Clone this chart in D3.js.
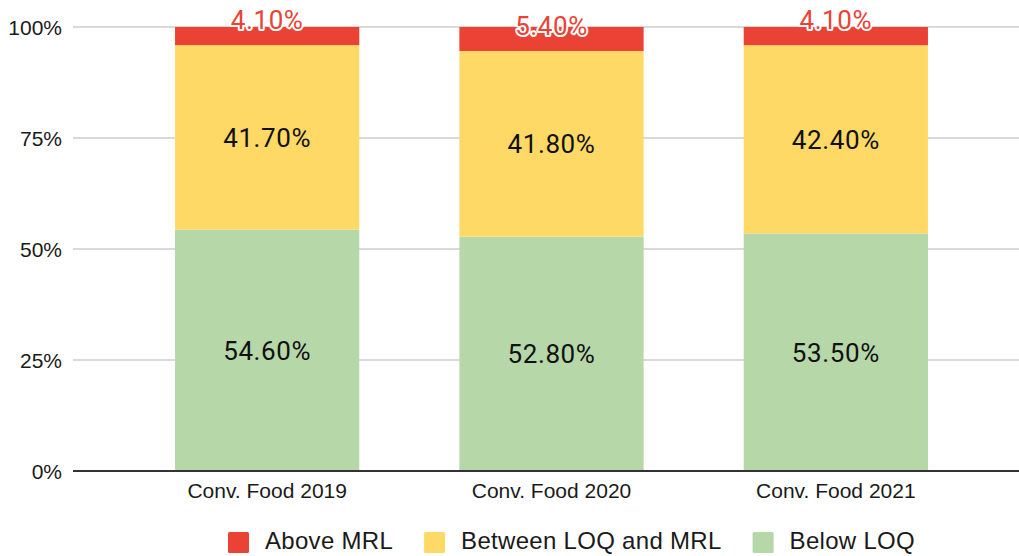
<!DOCTYPE html>
<html lang="en">
<head>
  <meta charset="UTF-8">
  <title>Pesticide residues</title>
  <style>
    body { margin: 0; background: #fff; }
    svg { display: block; }
  </style>
</head>
<body>
  <svg id="svg" width="1019" height="556"></svg>
  <script src="https://d3js.org/d3.v7.min.js"></script>
  <script>
    // chart values
    const categories = ['Conv. Food 2019', 'Conv. Food 2020', 'Conv. Food 2021']
    const seriesNames = ['Below LOQ', 'Between LOQ and MRL', 'Above MRL']
    const belowLOQ = [54.6, 52.8, 53.5]
    const betweenLOQandMRL = [41.7, 41.8, 42.4]
    const aboveMRL = [4.1, 5.4, 4.1]
    const yTicks = [0, 0.25, 0.5, 0.75, 1]

    const colors = { 'Below LOQ': '#b6d7a8', 'Between LOQ and MRL': '#ffd966', 'Above MRL': '#ea4335' }

    const svg = d3.select('#svg')

    const margin = { top: 27, right: 0, bottom: 85, left: 73 }
    const height = 556 - margin.bottom

    // stacked table, normalised to 100% like the original chart
    const table = categories.map((c, i) => {
      const total = belowLOQ[i] + betweenLOQandMRL[i] + aboveMRL[i]
      return {
        cat: c,
        'Below LOQ': belowLOQ[i] / total,
        'Between LOQ and MRL': betweenLOQandMRL[i] / total,
        'Above MRL': aboveMRL[i] / total,
        raw: { 'Below LOQ': belowLOQ[i], 'Between LOQ and MRL': betweenLOQandMRL[i], 'Above MRL': aboveMRL[i] }
      }
    })
    const stacked = d3.stack().keys(seriesNames)(table)

    const xscale = d3.scaleBand()
      .domain(categories)
      .range([125, 978])
      .paddingInner(0.352)
      .paddingOuter(0.176)

    const yscale = d3.scaleLinear()
      .domain([0, 1])
      .range([height, margin.top])

    // gridlines
    svg.append('g')
      .selectAll('line')
      .data(yTicks.filter(t => t > 0))
      .enter()
      .append('line')
      .attr('x1', margin.left)
      .attr('x2', 1019)
      .attr('y1', d => yscale(d))
      .attr('y2', d => yscale(d))
      .attr('stroke', '#cccccc')
      .attr('stroke-width', 1.5)

    // y tick labels
    svg.append('g')
      .selectAll('text')
      .data(yTicks)
      .enter()
      .append('text')
      .attr('x', 62)
      .attr('y', d => yscale(d))
      .attr('dy', '0.36em')
      .attr('text-anchor', 'end')
      .attr('font-family', 'Liberation Sans, Arial, sans-serif')
      .attr('font-size', 21)
      .attr('fill', '#1a1a1a')
      .text(d => d3.format('.0%')(d))

    // bars
    const layers = svg.append('g')
      .selectAll('g')
      .data(stacked)
      .enter()
      .append('g')
      .attr('fill', d => colors[d.key])

    layers.selectAll('rect')
      .data(d => d)
      .enter()
      .append('rect')
      .attr('x', d => xscale(d.data.cat))
      .attr('y', d => yscale(d[1]))
      .attr('width', xscale.bandwidth())
      .attr('height', d => yscale(d[0]) - yscale(d[1]))

    // baseline
    svg.append('line')
      .attr('x1', margin.left)
      .attr('x2', 1019)
      .attr('y1', yscale(0))
      .attr('y2', yscale(0))
      .attr('stroke', '#333')
      .attr('stroke-width', 2)

    // value labels
    stacked.forEach(layer => {
      const isTop = layer.key === 'Above MRL'
      svg.append('g')
        .selectAll('text')
        .data(layer)
        .enter()
        .append('text')
        .attr('x', d => xscale(d.data.cat) + xscale.bandwidth() / 2)
        .attr('y', d => isTop ? yscale(d[0]) - 16 : (yscale(d[0]) + yscale(d[1])) / 2)
        .attr('dy', isTop ? 0 : '0.36em')
        .attr('text-anchor', 'middle')
        .attr('font-family', 'Roboto, sans-serif')
        .attr('font-size', 26)
        .attr('letter-spacing', 0.6)
        .attr('fill', isTop ? '#ea4335' : '#111')
        .attr('stroke', isTop ? '#fff' : 'none')
        .attr('stroke-width', isTop ? 4 : 0)
        .attr('stroke-linejoin', 'round')
        .attr('paint-order', 'stroke')
        .text(d => d.data.raw[layer.key].toFixed(2) + '%')
    })

    // x labels
    svg.append('g')
      .selectAll('text')
      .data(categories)
      .enter()
      .append('text')
      .attr('x', d => xscale(d) + xscale.bandwidth() / 2)
      .attr('y', 498)
      .attr('text-anchor', 'middle')
      .attr('font-family', 'Liberation Sans, Arial, sans-serif')
      .attr('font-size', 21)
      .attr('fill', '#1a1a1a')
      .text(d => d)

    // legend
    const legendOrder = ['Above MRL', 'Between LOQ and MRL', 'Below LOQ']
    const legend = svg.append('g')
    let lx = 228
    legendOrder.forEach(name => {
      legend.append('rect')
        .attr('x', lx)
        .attr('y', 532)
        .attr('width', 21)
        .attr('height', 21)
        .attr('rx', 1.5)
        .attr('fill', colors[name])
      const t = legend.append('text')
        .attr('x', lx + 37)
        .attr('y', 549)
        .attr('font-family', 'Liberation Sans, Arial, sans-serif')
        .attr('font-size', 24)
        .attr('letter-spacing', 0.3)
        .attr('fill', '#1a1a1a')
        .text(name)
      lx += 37 + t.node().getComputedTextLength() + 31
    })
  </script>
</body>
</html>
